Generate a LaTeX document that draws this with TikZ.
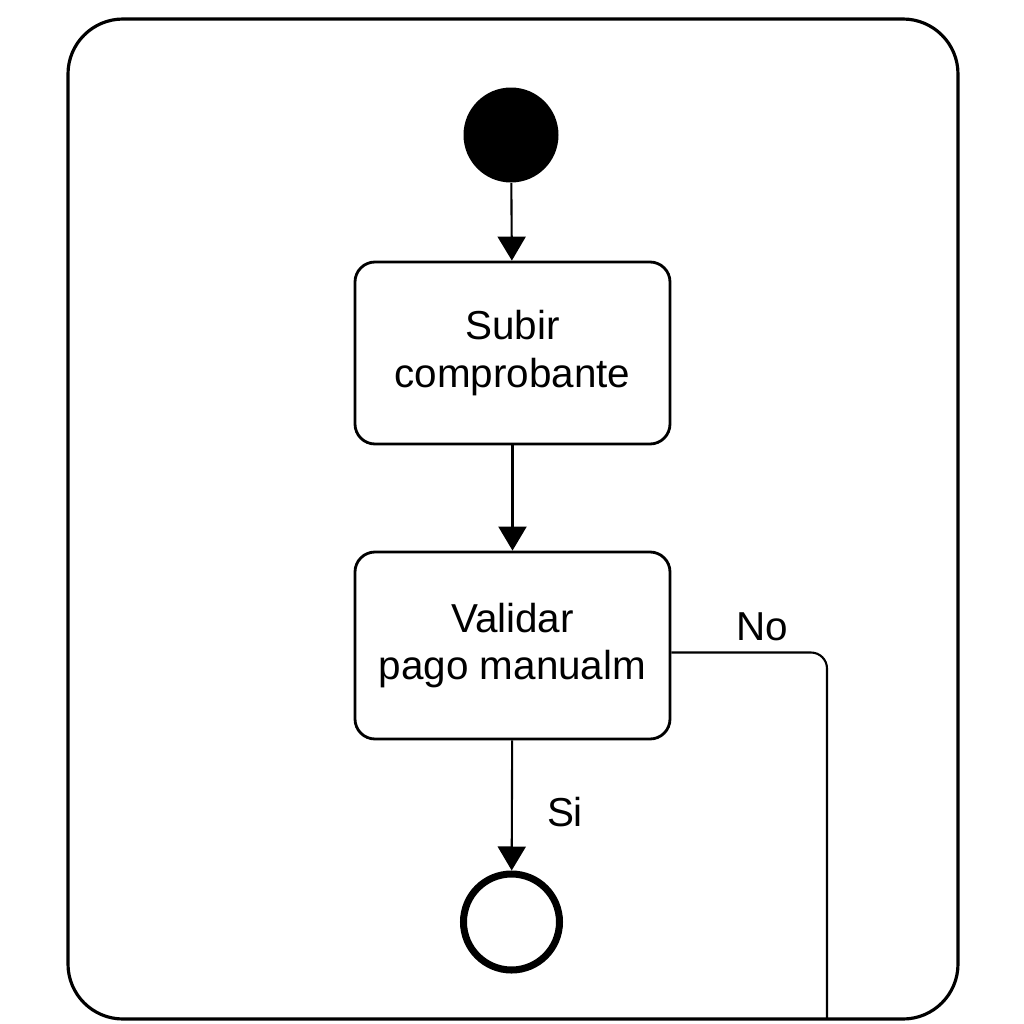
\documentclass[tikz,border=0pt]{standalone}
\usepackage{fontspec}
\setmainfont{Liberation Sans}
\usetikzlibrary{arrows.meta}

\tikzset{
  activity/.style={draw, line width=0.8pt, rounded corners=0.2cm, minimum width=3.15cm, align=center, font=\fontsize{11.5}{13.4}\selectfont},
  flow/.style={-{Triangle[width=0.28cm,length=0.24cm]}, line width=0.6pt},
  guard/.style={font=\fontsize{11.5}{13.4}\selectfont}
}

\begin{document}
\begin{tikzpicture}

\useasboundingbox (0,0) rectangle (10.24,-10.24);

% Frame
\draw[line width=0.9pt, rounded corners=0.55cm] (0.68,-0.19) rectangle (9.58,-10.19);

% Initial and final states
\node[circle, fill=black, inner sep=0pt, minimum size=0.95cm] (start) at (5.11,-1.35) {};
\node[circle, draw, line width=2pt, inner sep=0pt, minimum size=0.96cm] (fin) at (5.115,-9.22) {};

% Activities
\node[activity, minimum height=1.82cm] (subir) at (5.125,-3.53) {Subir\\comprobante};
\node[activity, minimum height=1.87cm] (validar) at (5.125,-6.455) {Validar\\pago manualm};

% Flows
\draw[flow] (start) -- (subir);
\draw[flow] (subir) -- (validar);
\draw[flow] (validar) -- (fin);

% Rejected branch
\coordinate (nostart) at ([yshift=-0.07cm]validar.east);
\coordinate (noend) at (8.27,-10.19);
\draw[line width=0.6pt, rounded corners=0.16cm] (nostart) -- (noend |- nostart) -- (noend);

% Guards
\node[guard] (si) at (5.65,-8.12) {Si};
\node[guard] (no) at (7.62,-6.27) {No};

\end{tikzpicture}
\end{document}
